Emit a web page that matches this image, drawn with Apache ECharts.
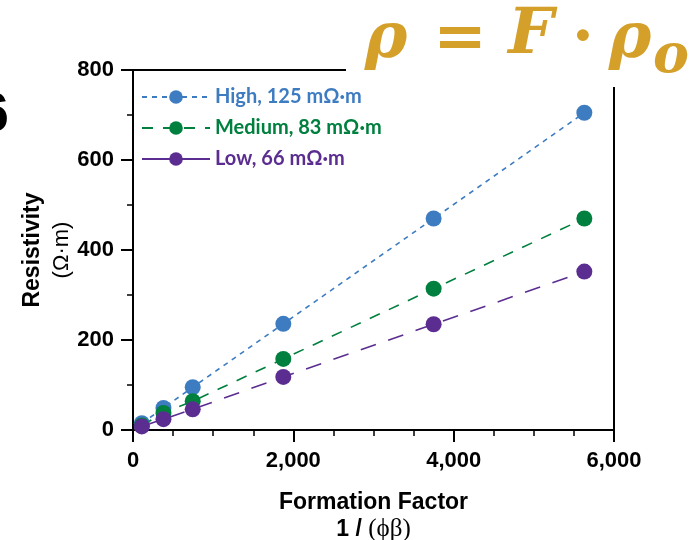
<!DOCTYPE html>
<html>
<head>
<meta charset="utf-8">
<script src="https://cdn.jsdelivr.net/npm/echarts@6/dist/echarts.min.js"></script>
<style>
    html, body { margin: 0; padding: 0; background: #fff; }
    #chart { width: 694px; height: 540px; }
</style>
</head>
<body>
<div id="chart"></div>
<script>
// 数据：地层因子 与 三种孔隙水电阻率下的岩样电阻率
var formationFactor = [110, 380, 745, 1875, 3750, 5630];
var highRes = [15, 49, 95, 236, 470, 705];
var mediumRes = [10, 38, 64, 158, 314, 470];
var lowRes = [8, 24, 46, 118, 235, 352];
var seriesNames = ['High, 125 mΩ·m', 'Medium, 83 mΩ·m', 'Low, 66 mΩ·m'];
var seriesColors = ['#3E7CC1', '#00803E', '#5B2D90'];
var seriesDash = [[5, 5], [11, 10], [16, 13]];

var axisFont = '"Liberation Sans", Arial, sans-serif';
var gold = '#D4A02A';

function pairs(xs, ys) {
    var out = [];
    for (var i = 0, len = xs.length; i < len; i++) {
        out.push([xs[i], ys[i]]);
    }
    return out;
}

// 公式里的单个字符
function glyph(text, x, y, font) {
    return {
        type: 'text', z: 51,
        style: { text: text, x: x, y: y, textAlign: 'center', textVerticalAlign: 'middle', font: font, fill: gold }
    };
}

var chart = echarts.init(document.getElementById('chart'));
var allValues = [highRes, mediumRes, lowRes];

var series = [];
for (var s = 0; s < seriesNames.length; s++) {
    series.push({
        name: seriesNames[s],
        type: 'line',
        data: pairs(formationFactor, allValues[s]),
        symbol: 'circle',
        symbolSize: 16,
        color: seriesColors[s],
        itemStyle: { color: seriesColors[s] },
        lineStyle: { color: seriesColors[s], width: 1.6, type: seriesDash[s] },
        emphasis: { disabled: true },
        animation: false
    });
}

var legendData = [];
for (var k = 0; k < seriesNames.length; k++) {
    var item = { name: seriesNames[k], textStyle: { color: seriesColors[k] } };
    if (k === 2) {
        item.lineStyle = { type: 'solid' };   // 图例里 Low 为实线
    }
    legendData.push(item);
}

var option = {
    backgroundColor: '#fff',
    animation: false,
    grid: {
        left: 133, right: 80, top: 70, bottom: 110,
        containLabel: false,
        outerBoundsMode: 'none',
        show: true, borderColor: '#000', borderWidth: 2
    },
    legend: {
        orient: 'vertical',
        left: 141, top: 87,
        padding: 0,
        itemWidth: 68,
        itemHeight: 17,
        itemGap: 11,
        selectedMode: false,
        textStyle: { fontFamily: 'Lato', fontWeight: 'bold', fontSize: 20 },
        data: legendData
    },
    xAxis: {
        type: 'value',
        min: 0, max: 6000, interval: 2000,
        name: '{b|Formation Factor}\n{b|1 / }{g|(ϕβ)}',
        nameLocation: 'middle',
        nameGap: 59,
        nameMoveOverlap: false,
        nameTextStyle: {
            rich: {
                b: { fontFamily: axisFont, fontWeight: 'bold', fontSize: 23, lineHeight: 27, color: '#000' },
                g: { fontFamily: '"Liberation Serif", serif', fontSize: 25, lineHeight: 27, color: '#000' }
            }
        },
        axisLine: { lineStyle: { color: '#000', width: 2 } },
        axisTick: { inside: false, length: 12, lineStyle: { color: '#000', width: 2 } },
        minorTick: { show: true, splitNumber: 4, length: 6, lineStyle: { color: '#000', width: 1.5 } },
        splitLine: { show: false },
        axisLabel: {
            margin: 20,
            color: '#000', fontFamily: axisFont, fontWeight: 'bold', fontSize: 22,
            formatter: function (v) { return v.toLocaleString('en-US'); }
        }
    },
    yAxis: {
        type: 'value',
        min: 0, max: 800, interval: 200,
        name: '{b|Resistivity}\n{n|(Ω·m)}',
        nameLocation: 'middle',
        nameRotate: 90,
        nameGap: 57,
        nameMoveOverlap: false,
        nameTextStyle: {
            rich: {
                b: { fontFamily: axisFont, fontWeight: 'bold', fontSize: 23, lineHeight: 29, color: '#000' },
                n: { fontFamily: axisFont, fontSize: 22, lineHeight: 29, color: '#000' }
            }
        },
        axisLine: { lineStyle: { color: '#000', width: 2 } },
        axisTick: { inside: false, length: 12, lineStyle: { color: '#000', width: 2 } },
        minorTick: { show: true, splitNumber: 2, length: 6, lineStyle: { color: '#000', width: 1.5 } },
        splitLine: { show: false },
        axisLabel: {
            margin: 19,
            color: '#000', fontFamily: axisFont, fontWeight: 'bold', fontSize: 22
        }
    },
    graphic: [
        // 公式白底，盖住右上角边框
        { type: 'rect', z: 50, shape: { x: 346, y: 0, width: 348, height: 87 }, style: { fill: '#fff' } },
        glyph('ρ', 386, 40, 'italic bold 64px "DejaVu Serif"'),
        glyph('=', 460, 40, 'bold 64px "DejaVu Serif"'),
        glyph('F', 531, 36, 'italic bold 64px "DejaVu Serif"'),
        glyph('·', 583, 40, 'bold 64px "DejaVu Serif"'),
        glyph('ρ', 630, 40, 'italic bold 64px "DejaVu Serif"'),
        glyph('o', 671, 58, 'italic bold 54px "DejaVu Serif"'),
        // 左侧被裁掉的面板编号
        { type: 'text', z: 51, style: { text: '6', x: 9, y: 116, textAlign: 'right', textVerticalAlign: 'middle', font: 'bold 56px "Liberation Sans"', fill: '#000' } }
    ],
    series: series
};
chart.setOption(option, true);
</script>
</body>
</html>
